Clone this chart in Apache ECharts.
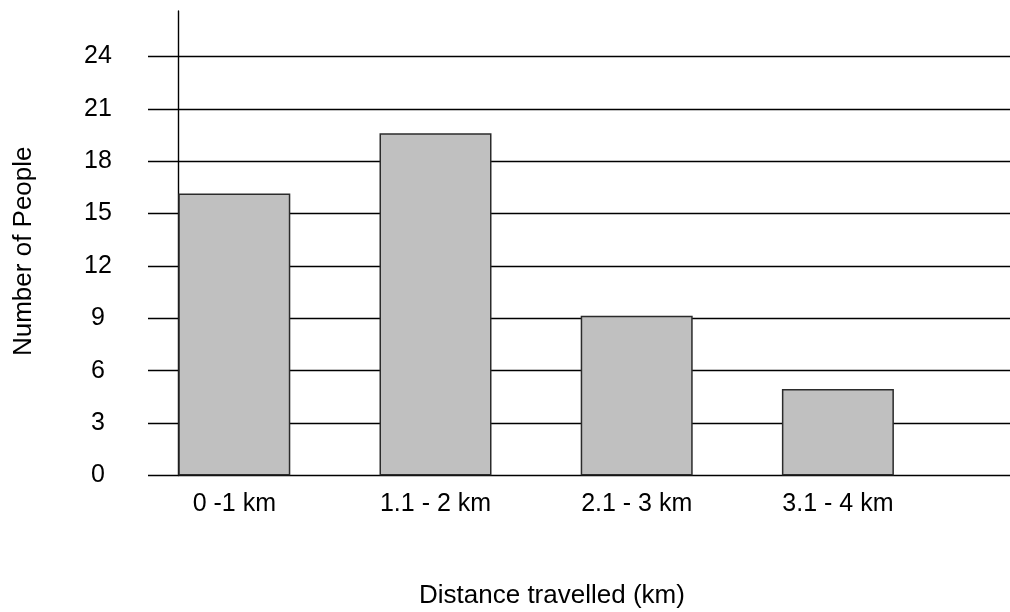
<!DOCTYPE html>
<html><head><meta charset="utf-8">
<script src="https://cdn.jsdelivr.net/npm/echarts@6/dist/echarts.min.js"></script>
<style>html,body{margin:0;padding:0;background:#fff}#c{width:1010px;height:612px}</style>
</head><body><div id="c"></div>
<script>
const categories = ['0 -1 km', '1.1 - 2 km', '2.1 - 3 km', '3.1 - 4 km'];
const people = [16.15, 19.6, 9.15, 4.95];
const yMin = 0, yMax = 26.6, yInterval = 3;
const xTitle = 'Distance travelled (km)';
const yTitle = 'Number of People';

const FONT = "'Liberation Sans', Arial, sans-serif";
const chart = echarts.init(document.getElementById('c'), null, {renderer: 'canvas'});
chart.setOption({
  animation: false,
  backgroundColor: '#fff',
  textStyle: {fontFamily: FONT, color: '#000'},
  title: {
    text: xTitle, left: 419, top: 583, padding: 0,
    textStyle: {fontFamily: FONT, fontSize: 26, fontWeight: 'normal', color: '#000'}
  },
  grid: [
    {left: 148, right: 0, top: 11, bottom: 136.5, containLabel: false, outerBoundsMode: 'none'},
    {left: 133.7, right: -129.7, top: 11, bottom: 136.5, containLabel: false, outerBoundsMode: 'none'}
  ],
  xAxis: [
    {gridIndex: 0, type: 'category', data: categories.concat(['']), show: false},
    {gridIndex: 1, type: 'category', data: categories.concat(['']),
     axisLine: {show: false}, axisTick: {show: false}, splitLine: {show: false},
     axisLabel: {fontFamily: FONT, fontSize: 25, color: '#000', margin: 29, verticalAlign: 'middle', interval: 0}}
  ],
  yAxis: [
    {gridIndex: 0, type: 'value', min: yMin, max: yMax, interval: yInterval, offset: -30.7,
     axisLine: {show: true, lineStyle: {color: '#000', width: 1.4}},
     axisTick: {show: false},
     axisLabel: {fontFamily: FONT, fontSize: 25, color: '#000', margin: 80.7, align: 'center', showMaxLabel: false},
     splitLine: {show: true, showMaxLine: false, lineStyle: {color: '#000', width: 1.4}},
     name: yTitle, nameLocation: 'middle', nameRotate: 90, nameGap: 142,
     nameTextStyle: {fontFamily: FONT, fontSize: 26, color: '#000', padding: [0, 16, 0, 0]}},
    {gridIndex: 1, type: 'value', min: yMin, max: yMax, interval: yInterval, show: false}
  ],
  series: [{
    type: 'bar', xAxisIndex: 1, yAxisIndex: 1, data: people, barWidth: 112, silent: true,
    itemStyle: {color: '#c0c0c0', borderColor: '#2b2b2b', borderWidth: 1.5}
  }]
});
</script></body></html>
